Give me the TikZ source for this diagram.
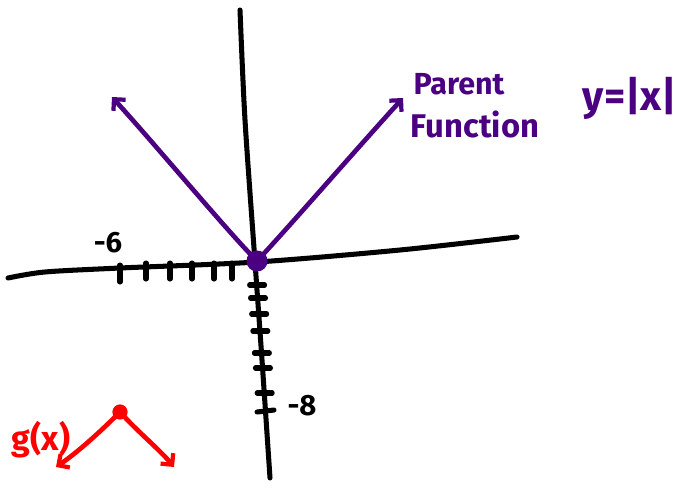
\documentclass[tikz,border=0pt]{standalone}
\usepackage{fontspec}
\setsansfont{Fira Sans}
\usetikzlibrary{arrows.meta}
\definecolor{parentpurple}{RGB}{75,0,130}
\definecolor{gred}{RGB}{255,0,0}
\tikzset{
  axisline/.style={line width=4.3pt,line cap=round,line join=round},
  handarrow/.style={line width=4pt,line cap=round,line join=round,-{Straight Barb[length=7pt,width=14pt,line width=3.6pt]}},
  handdot/.style={circle,inner sep=0pt,minimum size=#1},
  handtext/.style={font=\sffamily\bfseries\fontsize{#1}{#1}\selectfont,inner sep=0pt}
}

\begin{document}
\begin{tikzpicture}[x=0.03cm,y=-0.03cm]
\useasboundingbox (0,0) rectangle (682,497);
% axes
\draw[axisline] plot[smooth] coordinates {(8,278) (45,272) (120,268) (257,262) (400,250) (517,237)};
\draw[axisline] plot[smooth] coordinates {(240,10) (245,120) (255,262) (262,360) (270,478)};
\foreach \xx in {146,170,192,214,232} {\draw[axisline] (\xx,263) -- (\xx,279);}
\draw[axisline] (120,265) -- (120,282);
\foreach \yy in {285,298,314,331,353,368,393} {
  \pgfmathsetmacro\ax{255+0.07*(\yy-262)}
  \draw[axisline] (\ax-7,\yy) -- (\ax+8,\yy);}
\draw[axisline] (257,412) -- (274,410);
\node[handtext=25] (minussix) at (108,243) {-6};
\node[handtext=25] (minuseight) at (302,406) {-8};
% parent function
\node[handdot=18pt,fill=parentpurple] (origin) at (257,261) {};
\coordinate (lefttip) at (112,97);
\coordinate (righttip) at (403,98);
\draw[handarrow,parentpurple] (origin.center) .. controls (228,232) and (160,150) .. (lefttip);
\draw[handarrow,parentpurple] (origin.center) .. controls (288,228) and (360,145) .. (righttip);
\node[handtext=26,text=parentpurple] (parent) at (459,84) {Parent};
\node[handtext=28,text=parentpurple] (function) at (475,124) {Function};
\node[handtext=35,text=parentpurple] (absx) at (630,98) {y=|x|};
% g(x)
\node[handdot=13pt,fill=gred] (vertex) at (120,412) {};
\coordinate (gleft) at (56,467);
\coordinate (gright) at (174,467);
\draw[handarrow,gred] (vertex.center) .. controls (100,432) and (78,452) .. (gleft);
\draw[handarrow,gred] (vertex.center) .. controls (138,432) and (160,450) .. (gright);
\node[handtext=29,text=gred] (glabel) at (41,440) {g(x)};
\end{tikzpicture}
\end{document}
